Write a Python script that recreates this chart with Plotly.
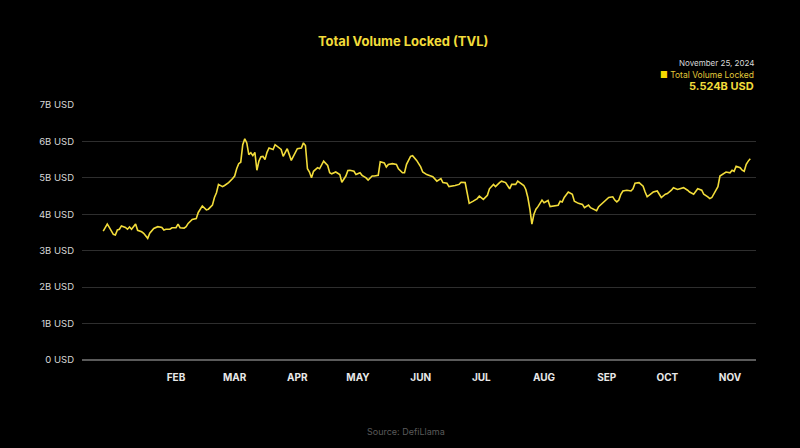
import plotly.graph_objects as go

dates = [
    "2024-01-10", "2024-01-12", "2024-01-13", "2024-01-15", "2024-01-16", "2024-01-17", "2024-01-18",
    "2024-01-19", "2024-01-21", "2024-01-22", "2024-01-23", "2024-01-24", "2024-01-26", "2024-01-27",
    "2024-01-29", "2024-01-30", "2024-02-01", "2024-02-02", "2024-02-04", "2024-02-06", "2024-02-08",
    "2024-02-09", "2024-02-10", "2024-02-12", "2024-02-13", "2024-02-15", "2024-02-16", "2024-02-17",
    "2024-02-19", "2024-02-20", "2024-02-21", "2024-02-23", "2024-02-25", "2024-02-26", "2024-02-28",
    "2024-03-01", "2024-03-02", "2024-03-04", "2024-03-05", "2024-03-06", "2024-03-07", "2024-03-09",
    "2024-03-10", "2024-03-12", "2024-03-14", "2024-03-15", "2024-03-16", "2024-03-17", "2024-03-18",
    "2024-03-19", "2024-03-20", "2024-03-21", "2024-03-22", "2024-03-23", "2024-03-24", "2024-03-25",
    "2024-03-26", "2024-03-27", "2024-03-28", "2024-03-29", "2024-03-30", "2024-03-31", "2024-04-01",
    "2024-04-03", "2024-04-04", "2024-04-06", "2024-04-07", "2024-04-08", "2024-04-09", "2024-04-10",
    "2024-04-12", "2024-04-13", "2024-04-15", "2024-04-17", "2024-04-18", "2024-04-19", "2024-04-20",
    "2024-04-21", "2024-04-22", "2024-04-23", "2024-04-25", "2024-04-26", "2024-04-27", "2024-04-28",
    "2024-04-30", "2024-05-01", "2024-05-02", "2024-05-04", "2024-05-06", "2024-05-07", "2024-05-09",
    "2024-05-10", "2024-05-11", "2024-05-13", "2024-05-14", "2024-05-16", "2024-05-17", "2024-05-19",
    "2024-05-20", "2024-05-22", "2024-05-23", "2024-05-25", "2024-05-26", "2024-05-28", "2024-05-29",
    "2024-05-30", "2024-06-01", "2024-06-03", "2024-06-04", "2024-06-06", "2024-06-07", "2024-06-08",
    "2024-06-10", "2024-06-11", "2024-06-13", "2024-06-15", "2024-06-16", "2024-06-18", "2024-06-20",
    "2024-06-21", "2024-06-23", "2024-06-25", "2024-06-26", "2024-06-28", "2024-06-29", "2024-07-01",
    "2024-07-02", "2024-07-04", "2024-07-05", "2024-07-07", "2024-07-08", "2024-07-09", "2024-07-11",
    "2024-07-13", "2024-07-14", "2024-07-15", "2024-07-16", "2024-07-18", "2024-07-19", "2024-07-21",
    "2024-07-22", "2024-07-24", "2024-07-25", "2024-07-27", "2024-07-29", "2024-07-30", "2024-08-01",
    "2024-08-02", "2024-08-04", "2024-08-05", "2024-08-06", "2024-08-07", "2024-08-08", "2024-08-09",
    "2024-08-10", "2024-08-11", "2024-08-12", "2024-08-13", "2024-08-14", "2024-08-15", "2024-08-17",
    "2024-08-18", "2024-08-20", "2024-08-22", "2024-08-23", "2024-08-24", "2024-08-25", "2024-08-27",
    "2024-08-29", "2024-08-30", "2024-09-01", "2024-09-03", "2024-09-04", "2024-09-06", "2024-09-07",
    "2024-09-08", "2024-09-10", "2024-09-11", "2024-09-13", "2024-09-15", "2024-09-16", "2024-09-18",
    "2024-09-19", "2024-09-20", "2024-09-21", "2024-09-22", "2024-09-23", "2024-09-25", "2024-09-27",
    "2024-09-28", "2024-09-29", "2024-10-01", "2024-10-03", "2024-10-04", "2024-10-05", "2024-10-07",
    "2024-10-08", "2024-10-10", "2024-10-11", "2024-10-12", "2024-10-14", "2024-10-15", "2024-10-17",
    "2024-10-18", "2024-10-20", "2024-10-22", "2024-10-23", "2024-10-25", "2024-10-26", "2024-10-28",
    "2024-10-29", "2024-10-30", "2024-11-01", "2024-11-02", "2024-11-04", "2024-11-05", "2024-11-06",
    "2024-11-08", "2024-11-09", "2024-11-10", "2024-11-12", "2024-11-13", "2024-11-15", "2024-11-16",
    "2024-11-17", "2024-11-18", "2024-11-20", "2024-11-21", "2024-11-22", "2024-11-23", "2024-11-24",
    "2024-11-25",
]

tvl_billions = [
    3.54, 3.73, 3.64, 3.45, 3.43, 3.57, 3.59,
    3.68, 3.64, 3.59, 3.65, 3.59, 3.73, 3.56,
    3.52, 3.48, 3.34, 3.48, 3.61, 3.66, 3.64,
    3.57, 3.59, 3.59, 3.63, 3.63, 3.73, 3.63,
    3.62, 3.66, 3.75, 3.86, 3.88, 4.05, 4.23,
    4.12, 4.14, 4.25, 4.46, 4.59, 4.82, 4.76,
    4.79, 4.87, 4.98, 5.05, 5.25, 5.39, 5.43,
    5.91, 6.07, 5.96, 5.64, 5.69, 5.61, 5.70,
    5.21, 5.46, 5.58, 5.59, 5.50, 5.70, 5.82,
    5.78, 5.91, 5.82, 5.78, 5.59, 5.69, 5.80,
    5.48, 5.59, 5.80, 5.82, 5.96, 5.89, 5.25,
    5.16, 5.00, 5.18, 5.28, 5.25, 5.37, 5.46,
    5.34, 5.14, 5.11, 5.16, 5.09, 4.88, 5.05,
    5.20, 5.21, 5.18, 5.09, 5.14, 5.07, 5.00,
    4.94, 5.05, 5.05, 5.07, 5.44, 5.41, 5.30,
    5.37, 5.39, 5.37, 5.25, 5.14, 5.14, 5.37,
    5.59, 5.61, 5.48, 5.30, 5.16, 5.09, 5.05,
    5.03, 4.91, 4.98, 4.87, 4.85, 4.76, 4.77,
    4.79, 4.82, 4.88, 4.87, 4.55, 4.30, 4.36,
    4.43, 4.50, 4.46, 4.41, 4.52, 4.70, 4.82,
    4.76, 4.87, 4.91, 4.87, 4.70, 4.82, 4.82,
    4.91, 4.82, 4.79, 4.68, 4.46, 4.14, 3.73,
    4.00, 4.14, 4.21, 4.30, 4.39, 4.32, 4.38,
    4.21, 4.23, 4.25, 4.36, 4.34, 4.46, 4.61,
    4.55, 4.36, 4.30, 4.27, 4.18, 4.25, 4.18,
    4.16, 4.10, 4.21, 4.30, 4.41, 4.46, 4.48,
    4.39, 4.34, 4.39, 4.55, 4.64, 4.66, 4.64,
    4.70, 4.85, 4.87, 4.77, 4.61, 4.48, 4.57,
    4.61, 4.64, 4.55, 4.46, 4.55, 4.57, 4.66,
    4.73, 4.68, 4.70, 4.73, 4.66, 4.61, 4.55,
    4.61, 4.70, 4.66, 4.55, 4.48, 4.43, 4.46,
    4.64, 4.76, 5.05, 5.14, 5.16, 5.14, 5.21,
    5.18, 5.32, 5.28, 5.21, 5.18, 5.37, 5.46,
    5.524,
]

month_ticks = ["2024-02-15", "2024-03-15", "2024-04-15", "2024-05-15", "2024-06-15",
               "2024-07-15", "2024-08-15", "2024-09-15", "2024-10-15", "2024-11-15"]
month_labels = ["FEB", "MAR", "APR", "MAY", "JUN", "JUL", "AUG", "SEP", "OCT", "NOV"]

y_ticks = [0, 1, 2, 3, 4, 5, 6, 7]
y_labels = ["0 USD", "1B USD", "2B USD", "3B USD", "4B USD", "5B USD", "6B USD", "7B USD"]

YELLOW = "#f2dc3a"
FONT = "Inter"

fig = go.Figure()
fig.add_trace(go.Scatter(
    x=dates, y=tvl_billions, mode="lines",
    line=dict(color=YELLOW, width=1.6),
    name="Total Volume Locked", showlegend=False,
))

fig.update_layout(
    width=800, height=448,
    paper_bgcolor="#000000", plot_bgcolor="#000000",
    margin=dict(l=82, r=44, t=105, b=88),
    title=dict(text="<b>Total Volume Locked (TVL)</b>", x=0.504, xanchor="center",
               y=1 - 41 / 448, yanchor="middle",
               font=dict(family=FONT, size=13, color=YELLOW)),
    xaxis=dict(
        type="date",
        range=["2023-12-30 12:00", "2024-11-27 20:00"],
        tickvals=month_ticks, ticktext=month_labels,
        showgrid=False, zeroline=False, showline=False, ticks="",
        ticklabelstandoff=10,
        tickfont=dict(family=FONT, size=10, color="#e8e8e8", weight="bold"),
    ),
    yaxis=dict(
        range=[0, 7], tickvals=y_ticks, ticktext=y_labels,
        showgrid=True, gridcolor="#2e2e2e", gridwidth=1,
        zeroline=True, zerolinecolor="#5a5a5a", zerolinewidth=1.5,
        showline=False, ticks="", ticklabelstandoff=7,
        tickfont=dict(family=FONT, size=9.5, color="#d8d8d8"),
    ),
    annotations=[
        dict(text="November 25, 2024", xref="paper", yref="paper", x=1, y=1 + 42 / 255,
             xanchor="right", yanchor="middle", showarrow=False,
             font=dict(family=FONT, size=8, color="#d8d8d8")),
        dict(text="<span style='color:#f5d800'>■</span> Total Volume Locked",
             xref="paper", yref="paper", x=1, y=1 + 30 / 255,
             xanchor="right", yanchor="middle", showarrow=False,
             font=dict(family=FONT, size=8.5, color="#e0c93a")),
        dict(text="<b>5.524B USD</b>", xref="paper", yref="paper", x=1, y=1 + 19 / 255,
             xanchor="right", yanchor="middle", showarrow=False,
             font=dict(family=FONT, size=11, color=YELLOW)),
        dict(text="Source: DefiLlama", xref="paper", yref="paper", x=0.48, y=-71 / 255,
             xanchor="center", yanchor="middle", showarrow=False,
             font=dict(family=FONT, size=9, color="#5a5a5a")),
    ],
)

fig.write_html("out.html")
